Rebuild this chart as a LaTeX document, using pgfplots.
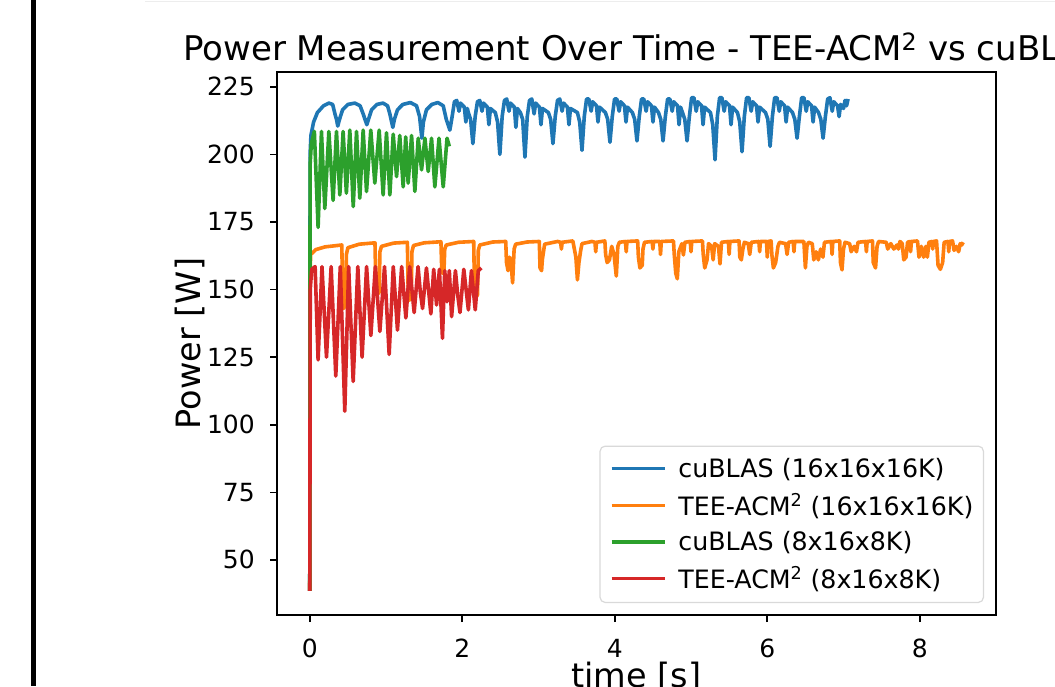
\documentclass[border=0pt]{standalone}
\usepackage{fontspec}
\setmainfont{DejaVu Sans}
\usepackage{pgfplots}
\pgfplotsset{compat=1.18}
\definecolor{tabblue}{HTML}{1F77B4}
\definecolor{taborange}{HTML}{FF7F0E}
\definecolor{tabgreen}{HTML}{2CA02C}
\definecolor{tabred}{HTML}{D62728}
\begin{document}
\begin{tikzpicture}[x=1pt,y=1pt]
\useasboundingbox (0,0) rectangle (1055,-686);
\clip (0,0) rectangle (1055,-686);
\fill[white] (0,0) rectangle (1055,-686);
\fill[black] (31,0) rectangle (35.5,-686);
\draw[black!7, line width=1.5pt] (145,-1.7) -- (1055,-1.7);
\begin{axis}[
    at={(277pt,-615pt)}, anchor=south west,
    scale only axis, width=719pt, height=543pt,
    xmin=-0.43, xmax=9.0, ymin=29.6, ymax=230.5,
    xtick={0,2,4,6,8},
    ytick={50,75,100,125,150,175,200,225},
    tick pos=left, tick align=outside,
    major tick length=7pt,
    tick style={line width=1.6pt, black},
    axis line style={line width=1.6pt, black},
    /pgf/number format/assume math mode=true,
    ticklabel style={font=\fontsize{25}{30}\selectfont, inner sep=0pt},
    yticklabel style={anchor=east, xshift=-15pt},
    xticklabel style={anchor=north, yshift=-17pt},
    ylabel={Power [W]},
    xlabel={time [s]},
    label style={font=\fontsize{33.5}{40}\selectfont},
    ylabel style={at={(axis description cs:-0.121,0.5)}, anchor=center},
    xlabel style={at={(axis description cs:0.5,-0.1344)}, anchor=base},
    no markers,
    every axis plot/.append style={line width=3.6pt, line join=round},
    legend style={at={(1,0)}, anchor=south east, xshift=-12pt, yshift=12pt,
        draw=black!15, line width=1.2pt, rounded corners=5pt, fill=white,
        font=\fontsize{25.3}{30}\selectfont, inner xsep=10pt, inner ysep=12pt,
        row sep=14.5pt, column sep=12pt, cells={anchor=west}, nodes={inner sep=0pt}},
    legend image code/.code={\draw[#1, line width=3.3pt, rounded corners=0pt] (0pt,0pt) -- (53pt,0pt);},
]
\addplot[tabblue] coordinates {
(0,38.5)(0.004,200)(0.015,207)(0.05,212)(0.1,215.5)(0.18,218)(0.25,219)(0.30,218.5)(0.33,215)(0.35,213)(0.367,210.5)
(0.39,213)(0.43,216.5)(0.50,218.5)(0.59,219)(0.66,218)(0.70,215)(0.748,211)
(0.77,213)(0.81,216.5)(0.88,218.5)(0.96,219)(1.02,218)(1.05,215)(1.089,210)
(1.11,213)(1.15,216.5)(1.22,218.5)(1.32,219.2)(1.40,218)(1.44,214)(1.47,206)
(1.49,212)(1.53,216.5)(1.60,218.5)(1.68,219.2)(1.75,218)(1.79,213)(1.837,209)
(1.867,214)(1.897,219.5)(1.927,220)(1.957,216)(1.977,219)(2.027,217.5)(2.047,212)(2.067,217)(2.079,215.5)(2.109,213)(2.139,204)
(2.169,214)(2.199,219.5)(2.229,220)(2.259,216)(2.279,219)(2.329,217.5)(2.349,211)(2.369,217)(2.433,215.5)(2.463,212)(2.493,200)
(2.523,214)(2.553,220)(2.583,220.5)(2.613,216)(2.633,219)(2.683,217.5)(2.703,210)(2.723,217)(2.762,215.5)(2.792,213)(2.822,199)
(2.852,214)(2.882,220)(2.912,220.5)(2.942,215)(2.962,219)(3.012,217.5)(3.032,211)(3.052,217)(3.129,215.5)(3.159,213)(3.189,204)
(3.219,214)(3.249,220)(3.279,220.5)(3.309,216)(3.329,219)(3.379,217.5)(3.399,211)(3.419,217)(3.510,215.5)(3.540,212)(3.570,201.5)
(3.600,214)(3.630,220.5)(3.660,220.5)(3.690,216)(3.710,219.5)(3.760,218)(3.780,212)(3.800,217.5)(3.877,215.5)(3.907,213)(3.937,204.5)
(3.967,214)(3.997,220.5)(4.027,220.5)(4.057,216)(4.077,219.5)(4.127,218)(4.147,212)(4.167,217.5)(4.231,215.5)(4.261,213)(4.291,205)
(4.321,214)(4.351,220.5)(4.381,220.5)(4.411,216)(4.431,219.5)(4.481,218)(4.501,212)(4.521,217.5)(4.573,215.5)(4.603,213)(4.633,205)
(4.663,214)(4.693,220.5)(4.723,220.5)(4.753,216)(4.773,219.5)(4.823,218)(4.843,211)(4.863,217.5)(4.888,215.5)(4.918,213)(4.948,205)
(4.978,214)(5.008,221)(5.038,221)(5.068,216)(5.088,219.5)(5.138,218)(5.158,211)(5.178,217.5)(5.255,215.5)(5.285,211)(5.315,198)
(5.345,214)(5.375,221)(5.405,221)(5.435,216)(5.455,219.5)(5.505,218)(5.525,211)(5.545,217.5)(5.609,215.5)(5.639,212)(5.669,201)
(5.699,214)(5.729,221)(5.759,221)(5.789,216)(5.809,219.5)(5.859,218)(5.879,212)(5.899,217.5)(5.977,215.5)(6.007,213)(6.037,203)
(6.067,214)(6.097,221)(6.127,221)(6.157,216)(6.177,219.5)(6.227,218)(6.247,212)(6.267,217.5)(6.331,215.5)(6.361,213)(6.391,206)
(6.421,214)(6.451,221)(6.481,221)(6.511,216)(6.531,219.5)(6.581,218)(6.601,212)(6.621,217.5)(6.672,215.5)(6.702,213)(6.732,206)
(6.762,214)(6.792,220.5)(6.822,221)(6.852,216)(6.872,219.5)(6.922,218)(6.942,214)(6.962,218.5)(7.00,217)(7.02,220)(7.04,218)(7.06,220.5)
};
\addlegendentry{cuBLAS (16x16x16K)}
\addplot[taborange] coordinates {
(0,38.5)(0.005,158)(0.012,163)(0.08,164.8)(0.2,165.8)(0.42,166.5)
(0.43,150)(0.44,143)(0.47,144)(0.48,163)(0.5,165.5)(0.65,166.8)(0.855,167.3)
(0.866,152)(0.875,148)(0.91,149)(0.92,164)(0.94,166)(1.1,167.2)(1.28,167.5)
(1.29,150)(1.30,146)(1.33,147)(1.34,164)(1.36,166.3)(1.5,167.3)(1.72,167.7)
(1.73,158)(1.74,156)(1.76,157)(1.77,165)(1.79,166.5)(1.95,167.5)(2.15,167.8)
(2.16,150)(2.17,147)(2.20,148)(2.21,164.5)(2.23,166.5)(2.4,167.6)(2.57,167.8)
(2.58,160)(2.60,157)(2.62,162)(2.64,160)(2.66,152.5)(2.68,165)(2.70,166.8)(2.85,167.6)(3.01,167.8)
(3.02,158)(3.04,157)(3.05,161)(3.06,163)(3.08,166.8)(3.25,167.8)(3.29,167.5)(3.30,165)(3.31,167.5)(3.45,168)
(3.47,165)(3.49,162)(3.51,153.6)(3.53,160)(3.55,164)(3.57,167)(3.7,167.8)(3.74,167.5)(3.75,164)(3.76,167.5)(3.87,168)
(3.88,163)(3.90,160)(3.93,161)(3.96,166)(3.99,163)(4.02,155)(4.04,166)(4.06,167.5)(4.14,167.8)(4.15,164)(4.16,167.8)(4.30,168)
(4.31,162)(4.33,158)(4.36,159)(4.37,165)(4.39,167.5)(4.49,167.8)(4.50,165)(4.51,167.8)(4.59,167.8)(4.60,163)(4.61,167.8)(4.77,168)
(4.78,163)(4.80,156)(4.82,154)(4.84,164)(4.88,167)(4.90,162.8)(4.92,167.5)(4.99,167.8)(5.00,164)(5.01,167.8)(5.15,168)
(5.16,163)(5.18,158)(5.21,161)(5.23,167)(5.27,166)(5.29,161)(5.31,167)(5.36,166)(5.38,159.5)(5.40,167.5)(5.49,167.8)(5.50,163)(5.51,167.8)(5.63,168)
(5.64,162)(5.66,161)(5.68,165)(5.70,167.5)(5.75,167)(5.77,163)(5.79,167.5)(5.89,167.8)(5.90,164)(5.91,167.8)(5.99,167.8)(6.00,162)(6.01,167.8)(6.05,168)
(6.06,163)(6.08,158)(6.11,160)(6.14,166)(6.16,167.5)(6.24,167)(6.26,163)(6.28,167.5)(6.34,167.8)(6.35,164)(6.36,167.8)(6.48,167.8)
(6.50,158)(6.52,166)(6.54,167.5)(6.59,167)(6.61,161)(6.64,164)(6.67,161)(6.70,165)(6.73,162)(6.75,167.5)(6.84,167.8)(6.85,163)(6.86,167.8)(6.95,168)
(6.96,160)(6.98,157.3)(7.00,165)(7.02,167.5)(7.08,167)(7.10,164)(7.14,166)(7.17,164)(7.19,167.5)(7.29,167.8)(7.30,164)(7.31,167.8)(7.38,168)
(7.39,160)(7.42,158)(7.44,166)(7.46,167.8)(7.56,167.5)(7.58,165)(7.62,167)(7.66,165)(7.70,166.5)(7.72,165)(7.74,167.8)(7.77,167)
(7.79,161)(7.82,162)(7.84,167.5)(7.87,167.8)(7.88,164)(7.89,167.8)(7.97,168)
(7.99,162)(8.02,166)(8.05,162)(8.08,166)(8.10,162)(8.12,167.5)(8.16,167.8)(8.17,165)(8.18,167.8)(8.22,168)
(8.24,159)(8.27,157.5)(8.30,160)(8.32,167.5)(8.37,167.8)(8.38,164)(8.39,167.8)(8.43,168)
(8.45,164.5)(8.48,166)(8.51,164)(8.53,167)(8.55,166.5)(8.57,167.5)
};
\addlegendentry{TEE-ACM\textsuperscript{2} (16x16x16K)}
\addplot[tabgreen] coordinates {
(0,38.5)(0.004,196)(0.02,204)(0.06,208.5)(0.109,173)(0.153,208.5)(0.197,180)(0.25,208.5)(0.306,183)(0.35,208.5)
(0.394,185)(0.437,208.5)(0.48,185.7)(0.525,209)(0.57,180.7)(0.613,208.5)(0.656,183.8)(0.70,209)(0.744,186.3)(0.80,209)
(0.853,189.4)(0.91,209)(0.962,185)(1.006,208)(1.05,185)(1.094,207.5)(1.138,191.8)(1.18,207)(1.225,188)(1.258,206.5)
(1.29,189.4)(1.335,207)(1.378,186.3)(1.422,206)(1.466,194.3)(1.51,206)(1.553,193.7)(1.597,206)(1.64,188)(1.695,206)
(1.75,188)(1.80,206)(1.83,203)
};
\addlegendentry{cuBLAS (8x16x8K)}
\addplot[tabred] coordinates {
(0,38.5)(0.006,150)(0.025,157.5)(0.07,158.5)(0.109,124)(0.16,158.5)(0.219,125)(0.28,158.5)(0.341,118)(0.40,158.5)
(0.459,105)(0.51,158.5)(0.569,116)(0.63,158.5)(0.686,125)(0.745,158.5)(0.801,133)(0.86,158.5)(0.919,134.5)(0.98,158.5)
(1.041,126)(1.095,158.5)(1.15,135)(1.205,158.5)(1.26,139.5)(1.31,158.5)(1.369,141.5)(1.42,158.5)(1.45,149)(1.479,143)
(1.53,158)(1.588,141)(1.625,157.5)(1.663,144.3)(1.70,157.5)(1.74,132)(1.77,157)(1.80,145.5)(1.83,157)(1.86,140)
(1.91,157)(1.94,148)(1.97,141.5)(2.02,157.5)(2.08,142.5)(2.12,157)(2.17,142.5)(2.21,157)(2.25,158)
};
\addlegendentry{TEE-ACM\textsuperscript{2} (8x16x8K)}
\end{axis}
\node[anchor=base west, inner sep=0pt, font=\fontsize{34}{40}\selectfont] at (183pt,-60pt)
    {Power Measurement Over Time - TEE-ACM\textsuperscript{2} vs cuBLAS};
\end{tikzpicture}
\end{document}
